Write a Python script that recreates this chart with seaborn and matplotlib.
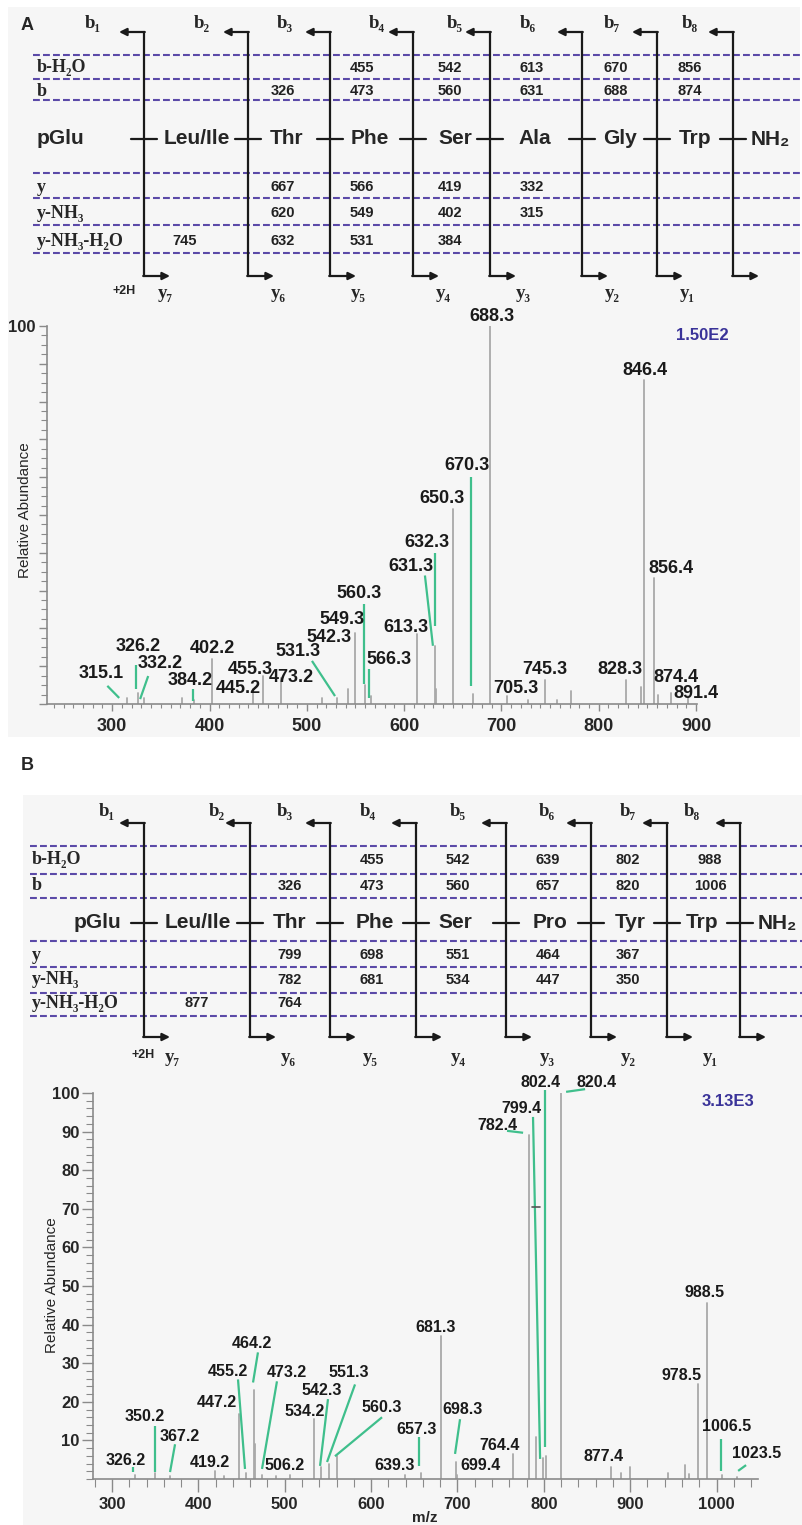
import numpy as np
import pandas as pd
import matplotlib
matplotlib.use("Agg")
import matplotlib.pyplot as plt
import seaborn as sns

# ---------------- fragmentation tables ----------------
residues_a = ["pGlu", "Leu/Ile", "Thr", "Phe", "Ser", "Ala", "Gly", "Trp", "NH₂"]
residues_b = ["pGlu", "Leu/Ile", "Thr", "Phe", "Ser", "Pro", "Tyr", "Trp", "NH₂"]
row_names = ["b-H₂O", "b", "y", "y-NH₃", "y-NH₃-H₂O"]
b_names = ["b₁", "b₂", "b₃", "b₄", "b₅", "b₆", "b₇", "b₈"]
y_names = ["y₇", "y₆", "y₅", "y₄", "y₃", "y₂", "y₁"]

# one entry per column between cleavage sites
a_bh2o = [None, None, 455, 542, 613, 670, 856]
a_b = [None, 326, 473, 560, 631, 688, 874]
a_y = [None, 667, 566, 419, 332, None, None]
a_ynh3 = [None, 620, 549, 402, 315, None, None]
a_ynh3h2o = [745, 632, 531, 384, None, None, None]

b_bh2o = [None, None, 455, 542, 639, 802, 988]
b_b = [None, 326, 473, 560, 657, 820, 1006]
b_y = [None, 799, 698, 551, 464, 367, None]
b_ynh3 = [None, 782, 681, 534, 447, 350, None]
b_ynh3h2o = [877, 764, None, None, None, None, None]

# ---------------- spectra ----------------
a_mz = [315.1, 326.2, 332.2, 384.2, 402.2, 445.2, 455.3, 473.2, 531.3, 542.3,
        549.3, 560.3, 566.3, 613.3, 631.3, 632.3, 650.3, 670.3, 688.3, 705.3,
        745.3, 828.3, 846.4, 856.4, 874.4, 891.4]
a_int = [1.5, 3.0, 1.5, 1.0, 12.0, 4.0, 7.4, 6.9, 1.5, 4.0,
         18.8, 5.0, 2.0, 18.6, 15.4, 4.0, 51.7, 2.6, 100.0, 2.0,
         6.4, 6.4, 85.7, 33.4, 2.8, 2.0]
a_minor_mz = [372.0, 515.5, 727.0, 757.0, 771.0, 843.5, 860.5]
a_minor_int = [1.5, 1.5, 1.0, 1.0, 3.5, 4.5, 2.5]

b_mz = [326.2, 350.2, 367.2, 419.2, 447.2, 455.2, 464.2, 473.2, 506.2, 534.2,
        542.3, 551.3, 560.3, 639.3, 657.3, 681.3, 698.3, 699.4, 764.4, 782.4,
        799.4, 802.4, 820.4, 877.4, 978.5, 988.5, 1006.5, 1023.5]
b_int = [1.0, 1.5, 0.8, 2.0, 16.8, 1.5, 23.0, 1.0, 1.0, 15.5,
         3.0, 4.0, 6.0, 1.0, 1.5, 37.0, 4.5, 1.0, 6.5, 89.0,
         5.5, 6.0, 100.0, 3.0, 24.5, 45.7, 1.0, 0.5]
b_minor_mz = [430.0, 465.2, 490.0, 791.0, 889.0, 900.0, 944.0, 963.0, 968.0]
b_minor_int = [0.8, 9.0, 0.7, 11.0, 1.5, 3.0, 1.5, 3.5, 1.2]

# ---------------- layout (pixels / data coords for labels) ----------------
W, H = 802, 1525
SANS = ["Liberation Sans", "DejaVu Sans"]
SERIF = ["Liberation Serif", "DejaVu Serif"]
DASH_C = "#5b4aa8"
GREEN = "#3fbf8c"
PEAK_C = "#a9a9a9"
AXC = "#8a8a8a"

lay_a = dict(cleave=[144, 248, 330, 413, 490, 582, 657, 733], top=32, bot=276,
             dash=[55, 79, 100, 173, 198, 225, 253], dash_x0=33,
             rows=[68, 91, 187, 213, 241], res_y=139, row_x=37,
             cols=[185, 283, 362, 450, 532, 616, 690],
             res_x=[60, 197, 287, 370, 455, 535, 620, 695, 770],
             blab_x=[93, 202, 285, 377, 455, 528, 612, 690], blab_y=24,
             ylab_x=[165, 278, 358, 443, 523, 612, 687], ylab_y=293, h2_x=124)
lay_b = dict(cleave=[144, 250, 330, 416, 506, 591, 667, 740], top=823, bot=1037,
             dash=[846, 874, 898, 941, 967, 993, 1016], dash_x0=30,
             rows=[860, 886, 955, 980, 1003], res_y=923, row_x=32,
             cols=[197, 290, 372, 458, 548, 628, 710],
             res_x=[97, 198, 290, 375, 455, 550, 630, 702, 777],
             blab_x=[107, 217, 285, 368, 458, 547, 628, 692], blab_y=812,
             ylab_x=[172, 288, 370, 458, 547, 628, 710], ylab_y=1057, h2_x=143)

lab_a = {"315.1": (288.6, 8.0), "326.2": (327, 15.1), "332.2": (349.5, 10.6),
         "384.2": (380.5, 6.2), "402.2": (403.2, 14.6), "445.2": (429.4, 4.0),
         "455.3": (442, 9.0), "473.2": (483.8, 6.9), "531.3": (491.3, 13.8),
         "542.3": (522.8, 17.5), "549.3": (536.6, 22.3), "560.3": (553.6, 29.2),
         "566.3": (584, 11.7), "613.3": (601.8, 20.2), "631.3": (607, 36.3),
         "632.3": (623.4, 42.7), "650.3": (639.3, 54.4), "670.3": (664.2, 63.1),
         "688.3": (690.1, 102.4), "705.3": (714.8, 4.2), "745.3": (744.6, 9.0),
         "828.3": (822.3, 9.0), "846.4": (847.8, 88.3), "856.4": (874.6, 35.8),
         "874.4": (879.7, 6.9), "891.4": (899.6, 2.7)}
lead_a = {"315.1": ((295, 4.8), (307.2, 1.6)), "326.2": ((324.6, 10.3), (324.6, 4.0)),
          "332.2": ((337, 7.4), (328.7, 1.3)), "384.2": ((383.2, 4.0), (383.2, 0.8)),
          "531.3": ((505.3, 11.4), (529, 2.1)), "560.3": ((558.7, 26.5), (558.7, 5.3)),
          "566.3": ((563.9, 9.3), (563.9, 1.6)), "631.3": ((621.4, 34.0), (629.6, 15.4)),
          "632.3": ((631.6, 40.0), (631.6, 20.7)), "670.3": ((668.6, 60.0), (668.6, 4.8))}

lab_b = {"326.2": (316.2, 4.7), "350.2": (338.2, 16.3), "367.2": (378.7, 11.1),
         "419.2": (413.5, 4.4), "447.2": (421.6, 19.9), "455.2": (434.3, 27.9),
         "464.2": (462.1, 35.1), "473.2": (502.7, 27.6), "506.2": (500.3, 3.6),
         "534.2": (523.5, 17.6), "542.3": (543.2, 23.0), "551.3": (574.5, 27.6),
         "560.3": (612.7, 18.6), "639.3": (627.7, 3.4), "657.3": (653.2, 12.9),
         "681.3": (674.1, 39.3), "698.3": (705.3, 18.1), "699.4": (726.2, 3.4),
         "764.4": (749.3, 8.8), "782.4": (745.9, 91.5), "799.4": (773.7, 96.1),
         "802.4": (795.7, 102.8), "820.4": (860.5, 102.6), "877.4": (868.6, 5.7),
         "978.5": (959, 26.9), "988.5": (986.7, 48.3), "1006.5": (1012.2, 13.7),
         "1023.5": (1046.9, 6.5)}
lead_b = {"326.2": ((324.3, 3.1), (324.3, 1.8)), "350.2": ((349.8, 13.7), (349.8, 1.8)),
          "367.2": ((373, 9.0), (367.2, 1.8)), "455.2": ((445.9, 25.8), (454, 2.6)),
          "464.2": ((469, 32.8), (463.3, 25.0)), "473.2": ((491, 25.3), (473.7, 2.6)),
          "542.3": ((550.1, 20.7), (540.9, 3.4)), "551.3": ((581.4, 24.5), (549, 4.4)),
          "560.3": ((612.7, 16.0), (558.2, 5.9)), "657.3": ((655.5, 10.9), (655.5, 3.4)),
          "698.3": ((703, 15.5), (697.2, 6.5)), "782.4": ((757.4, 90.2), (776, 89.7)),
          "799.4": ((787.5, 93.8), (795.7, 5.2)), "802.4": ((801.4, 100.8), (801.4, 8.3)),
          "820.4": ((825.8, 100.3), (847.8, 101.0)), "1006.5": ((1005.3, 10.3), (1005.3, 2.1)),
          "1023.5": ((1025, 2.1), (1034.2, 3.6))}

sns.set_theme(style="white")
plt.rcParams["font.family"] = SANS

fig = plt.figure(figsize=(W / 100, H / 100), dpi=100)
bg = fig.add_axes([0, 0, 1, 1])
bg.set_xlim(0, W)
bg.set_ylim(H, 0)
bg.axis("off")

# panel backgrounds
bg.add_patch(plt.Rectangle((8, 7), 792, 730, color="#f6f6f6", lw=0))
bg.add_patch(plt.Rectangle((23, 795), 779, 730, color="#f6f6f6", lw=0))
bg.text(27, 25, "A", fontsize=13, fontweight="bold", ha="center", va="center", family=SANS)
bg.text(27, 765, "B", fontsize=13, fontweight="bold", ha="center", va="center", family=SANS)


def draw_diagram(lay, residues, tables):
    for y in lay["dash"]:
        bg.plot([lay["dash_x0"], W], [y, y], color=DASH_C, lw=1.5, ls=(0, (3.3, 1.5)))
    aprops = dict(arrowstyle="-|>", color="k", lw=1.6, shrinkA=0, shrinkB=0, mutation_scale=11)
    for x in lay["cleave"]:
        bg.plot([x, x], [lay["top"], lay["bot"]], color="k", lw=1.6)
        bg.annotate("", xy=(x - 25, lay["top"]), xytext=(x + 0.8, lay["top"]), arrowprops=aprops)
        bg.annotate("", xy=(x + 26, lay["bot"]), xytext=(x - 0.8, lay["bot"]), arrowprops=aprops)
        bg.plot([x - 13, x + 13], [lay["res_y"], lay["res_y"]], color="k", lw=1.6)
    for name, y in zip(row_names, lay["rows"]):
        bg.text(lay["row_x"], y, name, fontsize=13, fontweight="bold", family=SERIF,
                ha="left", va="center")
    for i, (res, x) in enumerate(zip(residues, lay["res_x"])):
        ha = "left" if (i == 0 and lay is lay_a) else "center"
        xx = lay["row_x"] if ha == "left" else x
        bg.text(xx, lay["res_y"], res, fontsize=15, fontweight="bold", family=SANS,
                ha=ha, va="center")
    for vals, y in zip(tables, lay["rows"]):
        for v, x in zip(vals, lay["cols"]):
            if v is not None:
                bg.text(x, y, str(v), fontsize=10.5, fontweight="bold", family=SANS,
                        ha="center", va="center", color="#222222")
    for name, x in zip(b_names, lay["blab_x"]):
        bg.text(x, lay["blab_y"], name, fontsize=13.5, fontweight="bold", family=SERIF,
                ha="center", va="center")
    for name, x in zip(y_names, lay["ylab_x"]):
        bg.text(x, lay["ylab_y"], name, fontsize=13.5, fontweight="bold", family=SERIF,
                ha="center", va="center")
    bg.text(lay["h2_x"], lay["ylab_y"] - 2, "+2H", fontsize=9, fontweight="bold",
            family=SANS, ha="center", va="center")


draw_diagram(lay_a, residues_a, [a_bh2o, a_b, a_y, a_ynh3, a_ynh3h2o])
draw_diagram(lay_b, residues_b, [b_bh2o, b_b, b_y, b_ynh3, b_ynh3h2o])


def peak_frame(mz, inten):
    rows = []
    for i, (m, v) in enumerate(zip(mz, inten)):
        rows.append((i, m, 0.0))
        rows.append((i, m, v))
    return pd.DataFrame(rows, columns=["pid", "mz", "ab"])


def spectrum(box, xlim, mz, inten, mz2, int2, labs, leads, lab_fs):
    l, t, r, b = box
    ax = fig.add_axes([l / W, 1 - b / H, (r - l) / W, (b - t) / H])
    ax.set_facecolor("none")
    df = pd.concat([peak_frame(mz, inten), peak_frame(mz2, int2).assign(pid=lambda d: d.pid + 1000)])
    sns.lineplot(data=df, x="mz", y="ab", units="pid", estimator=None, sort=False,
                 color=PEAK_C, lw=1.3, ax=ax, legend=False)
    ax.set_xlim(*xlim)
    ax.set_ylim(0, 100)
    sns.despine(ax=ax)
    for s in ["left", "bottom"]:
        ax.spines[s].set_color(AXC)
        ax.spines[s].set_linewidth(1.2)
    ax.set_xlabel("")
    ax.set_ylabel("")
    for m in mz:
        key = f"{m:.1f}"
        tx, ty = labs[key]
        ax.text(tx, ty, key, fontsize=lab_fs, fontweight="bold", ha="center", va="center",
                color="#1a1a1a", clip_on=False)
        if key in leads:
            (x0, y0), (x1, y1) = leads[key]
            ax.plot([x0, x1], [y0, y1], color=GREEN, lw=1.6, clip_on=False,
                    solid_capstyle="butt")
    return ax


# panel A spectrum
axa = spectrum((47, 326, 697, 704), (233, 901), a_mz, a_int, a_minor_mz, a_minor_int,
               lab_a, lead_a, 13)
axa.set_xticks(range(300, 901, 100))
axa.set_xticks(np.arange(240, 901, 10), minor=True)
axa.set_yticks(range(0, 101, 10))
axa.set_yticklabels([""] * 10 + ["100"])
axa.set_yticks(np.arange(0, 101, 2.5), minor=True)
axa.tick_params(axis="x", which="major", length=5, width=1, color=AXC, pad=5, labelsize=13)
axa.tick_params(axis="x", which="minor", length=3, width=0.8, color=AXC)
axa.tick_params(axis="y", which="major", length=6, width=1, color=AXC, pad=2, labelsize=12)
axa.tick_params(axis="y", which="minor", length=4, width=0.8, color=AXC)
axa.tick_params(which="both", bottom=True, left=True)
for lab in axa.get_xticklabels() + axa.get_yticklabels():
    lab.set_fontweight("bold")
fig.text(25 / W, 1 - 510 / H, "Relative Abundance", rotation=90, fontsize=11,
         ha="center", va="center")
bg.text(702, 335, "1.50E2", fontsize=12, fontweight="bold",
        color="#3a3399", ha="center", va="center")

# panel B spectrum
axb = spectrum((93, 1093, 758, 1479), (278, 1048), b_mz, b_int, b_minor_mz, b_minor_int,
               lab_b, lead_b, 11.5)
axb.set_xticks(range(300, 1001, 100))
axb.set_xticks(np.arange(280, 1041, 20), minor=True)
axb.set_yticks(range(10, 101, 10))
axb.set_yticks(np.arange(0, 101, 2), minor=True)
axb.tick_params(axis="x", which="major", length=9, width=1, color=AXC, pad=4, labelsize=12)
axb.tick_params(axis="x", which="minor", length=6, width=0.8, color=AXC)
axb.tick_params(axis="y", which="major", length=8, width=1, color=AXC, pad=1.5, labelsize=12)
axb.tick_params(axis="y", which="minor", length=5, width=0.8, color=AXC)
axb.tick_params(which="both", bottom=True, left=True)
for lab in axb.get_xticklabels() + axb.get_yticklabels():
    lab.set_fontweight("bold")
axb.plot([786, 796], [70.5, 70.5], color="#555555", lw=1.2)
fig.text(52 / W, 1 - 1285 / H, "Relative Abundance", rotation=90, fontsize=11,
         ha="center", va="center")
bg.text(728, 1102, "3.13E3", fontsize=12, fontweight="bold",
        color="#3a3399", ha="center", va="center")
fig.text(425 / W, 1 - 1518 / H, "m/z", fontsize=11, fontweight="bold", ha="center", va="center")

fig.savefig("out.png", dpi=100)
